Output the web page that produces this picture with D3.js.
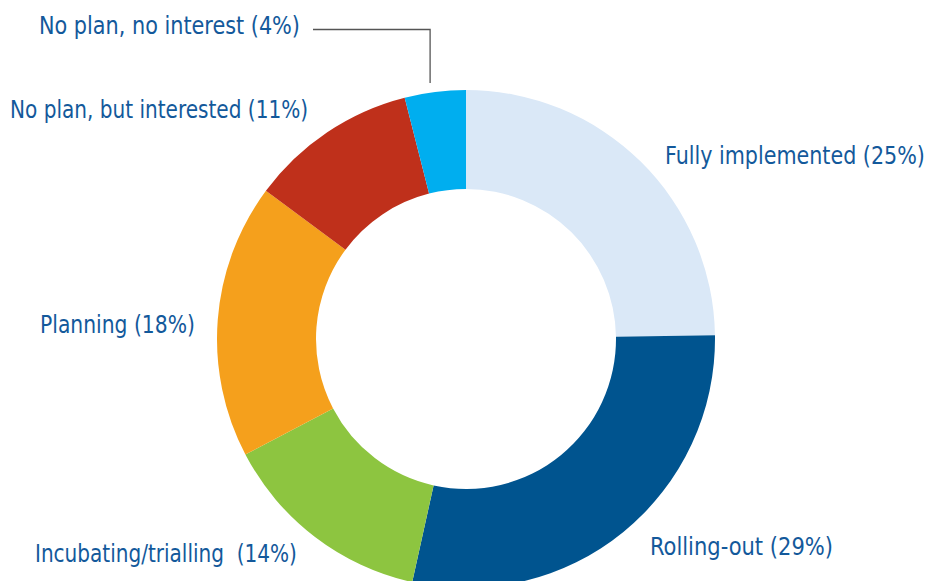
<!DOCTYPE html>
<html>
<head>
<meta charset="utf-8">
<script src="https://cdn.jsdelivr.net/npm/d3@7"></script>
<style>
html,body{margin:0;padding:0;background:#fff;}
svg{display:block;}
</style>
</head>
<body>
<svg id="chart" width="930" height="581"></svg>
<script>
// Data
const categories = ["Fully implemented", "Rolling-out", "Incubating/trialling ", "Planning", "No plan, but interested", "No plan, no interest"];
const values = [25, 29, 14, 18, 11, 4];
const colors = ["#dae8f7", "#00548f", "#8dc540", "#f5a01c", "#bf301b", "#00aeef"];

// Layout (label placement)
const labelLayout = [
  {x: 665, y: 163.5, anchor: "start"},
  {x: 650, y: 555, anchor: "start"},
  {x: 35, y: 562, anchor: "start"},
  {x: 40, y: 333, anchor: "start"},
  {x: 10, y: 118, anchor: "start"},
  {x: 39, y: 34, anchor: "start"}
];
const targetWidths = [260, 183, 262, 155, 298, 261];

const cx = 466, cy = 339, rOuter = 249, rInner = 150;
const svg = d3.select("#chart");
const g = svg.append("g").attr("transform", `translate(${cx},${cy})`);

const data = categories.map((c, i) => ({name: c, value: values[i], color: colors[i]}));
const pie = d3.pie().value(d => d.value).sort(null);
const arc = d3.arc().innerRadius(rInner).outerRadius(rOuter);
const arcs = pie(data);

g.selectAll("path.slice").data(arcs).enter().append("path")
  .attr("class", "slice")
  .attr("d", arc)
  .attr("fill", d => d.data.color);

// Leader line for smallest slice
const small = arcs[5];
const mid = (small.startAngle + small.endAngle) / 2;
const lx = cx + rOuter * Math.sin(mid) - 5;
svg.append("path")
  .attr("d", `M313,29.5 H${lx.toFixed(1)} V83`)
  .attr("fill", "none")
  .attr("stroke", "#555")
  .attr("stroke-width", 1.3);

const fontSize = 22;
svg.selectAll("text.lbl").data(arcs).enter().append("text")
  .attr("class", "lbl")
  .attr("transform", (d, i) => `translate(${labelLayout[i].x},${labelLayout[i].y}) scale(1,1.09)`)
  .attr("text-anchor", (d, i) => labelLayout[i].anchor)
  .attr("font-family", "'DejaVu Sans Condensed', 'DejaVu Sans', sans-serif")
  .attr("font-stretch", "condensed")
  .attr("font-size", fontSize)
  .attr("fill", "#13599b")
  .attr("xml:space", "preserve")
  .style("white-space", "pre")
  .text(d => `${d.data.name} (${d.data.value}%)`);

// fit widths
svg.selectAll("text.lbl").each(function(d, i) {
  const w = this.getComputedTextLength();
  const fs = fontSize * targetWidths[i] / w;
  d3.select(this).attr("font-size", fs.toFixed(2));
});
</script>
</body>
</html>
